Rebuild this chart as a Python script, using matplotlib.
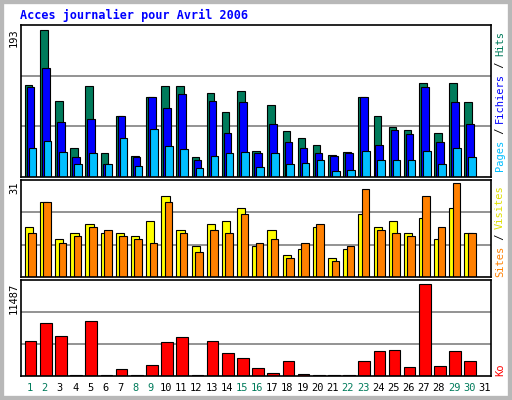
import matplotlib
matplotlib.use("Agg")
import matplotlib.pyplot as plt
import numpy as np

days = list(range(1, 32))
hits = [117,187,96,37,115,30,78,27,102,115,116,26,107,83,109,33,91,59,49,41,28,32,102,78,63,60,119,56,119,95,0]
files = [114,138,70,26,74,17,77,25,102,87,106,21,96,56,95,30,67,45,37,30,27,30,101,41,60,54,114,44,95,67,0]
pages = [37,46,32,17,30,17,50,14,61,39,35,12,27,31,32,13,30,17,18,21,8,9,33,22,22,21,33,16,37,25,0]
sites = [16,24,12,14,17,14,14,13,18,26,15,10,17,18,22,10,15,7,9,16,6,9,20,16,18,14,19,12,22,14,0]
visits = [14,24,11,13,16,15,13,12,11,24,14,8,15,14,20,11,12,6,11,17,5,10,28,15,14,13,26,16,30,14,0]
kb = [4232,6288,4837,0,6530,0,846,0,1330,4111,4716,0,4232,2781,2176,967,363,1814,242,0,0,0,1814,3023,3144,1088,11003,1209,3023,1814,0]
weekend = {1,2,8,9,15,16,22,23,29,30}
max_top, max_mid, max_bot = 193, 31, 11487

W, H = 512, 400
fig = plt.figure(figsize=(W/100, H/100), dpi=100)
fig.patch.set_facecolor("white")
# outer gray border
fig.add_artist(plt.Rectangle((0, 0), 1, 1, transform=fig.transFigure, fill=False, ec="#b8b8b8", lw=6))

def ax_at(top, bottom, left=21, right=491):
    return fig.add_axes([left/W, 1-bottom/H, (right-left)/W, (bottom-top)/H])

mono = "DejaVu Sans Mono"
fig.text(20/W, 1-15/H, "Acces journalier pour Avril 2006", color="#0000ff", fontsize=8.5,
         fontweight="bold", family=mono, va="center")

def style(ax, ymax):
    ax.set_xlim(0.5, 31.5)
    ax.set_ylim(0, ymax)
    ax.set_xticks([]); ax.set_yticks([])
    for y in (ymax/3, 2*ymax/3):
        ax.axhline(y, color="#808080", lw=1.2, zorder=0)
    for s in ax.spines.values():
        s.set_linewidth(1.2)

d = np.array(days)
ax1 = ax_at(25, 177)
style(ax1, max_top)
ax1.bar(d-0.25, hits, width=0.5, align="edge", color="#007b5b", ec="black", lw=0.8)
ax1.bar(d-0.12, files, width=0.5, align="edge", color="#0000ff", ec="black", lw=0.8)
ax1.bar(d+0.01, pages, width=0.5, align="edge", color="#00bfff", ec="black", lw=0.8)

ax2 = ax_at(180, 277)
style(ax2, max_mid)
ax2.bar(d-0.25, sites, width=0.55, align="edge", color="#ffff00", ec="black", lw=0.8)
ax2.bar(d-0.02, visits, width=0.5, align="edge", color="#ff8000", ec="black", lw=0.8)

ax3 = ax_at(280, 376)
style(ax3, max_bot)
kbd = [v if v > 0 else 60 for v in kb[:30]] + [0]
ax3.bar(d-0.25, kbd, width=0.77, align="edge", color="#ff0000", ec="black", lw=0.8)

for i in days:
    x = 21 + (i - 0.5) * 470/31 + 1
    fig.text(x/W, 1-388/H, str(i), ha="center", va="center", fontsize=7.5, family=mono,
             color="#007b5b" if i in weekend else "black")

for txt, y in (("193", 38), ("31", 188), ("11487", 298)):
    fig.text(14/W, 1-y/H, txt, rotation=90, ha="center", va="center", fontsize=7.5, family=mono)

def vlabel(parts, ybottom, x=500):
    y = ybottom
    for t, c in parts:
        n = len(t)
        h = n*6.0
        fig.text(x/W, 1-(y - h/2)/H, t, rotation=90, ha="center", va="center",
                 fontsize=7.5, family=mono, color=c)
        y -= h
vlabel([("Pages", "#00bfff"), (" / ", "black"), ("Fichiers", "#0000ff"), (" / ", "black"), ("Hits", "#007b5b")], 170)
vlabel([("Sites", "#ff8000"), (" / ", "black"), ("Visites", "#e0e000")], 276)
vlabel([("Ko", "#ff0000")], 376)

fig.savefig("out.png", dpi=100)
